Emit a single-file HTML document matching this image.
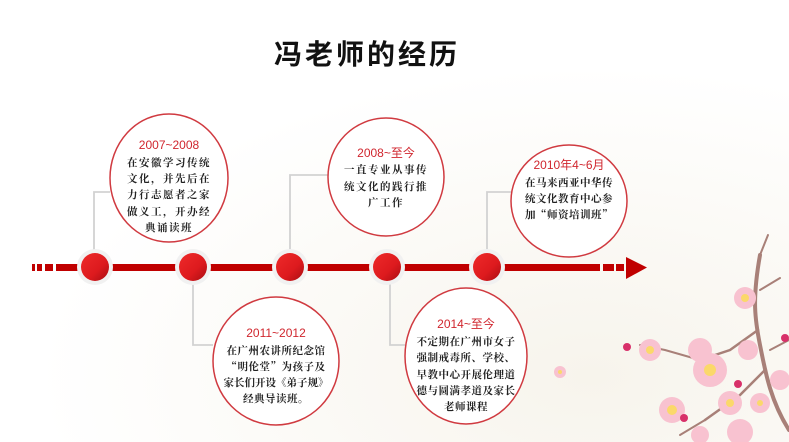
<!DOCTYPE html>
<html><head><meta charset="utf-8"><style>
html,body{margin:0;padding:0;background:#fff;}
svg{display:block;}
.t{font-family:"Liberation Sans","Noto Sans CJK SC",sans-serif;}
.yr{fill:#d0262e;font-size:12px;font-family:"Liberation Sans","Noto Sans CJK SC",sans-serif;}
.bd{fill:#222;font-size:10.5px;font-weight:bold;font-family:"Noto Serif CJK SC","Noto Sans CJK SC",sans-serif;letter-spacing:1.5px;}
.sm{letter-spacing:0.5px;}
</style></head><body>
<svg width="789" height="442" viewBox="0 0 789 442" xmlns="http://www.w3.org/2000/svg">
<defs>
<radialGradient id="bg" cx="0.75" cy="0.85" r="0.7"><stop offset="0" stop-color="#f7f4ec"/><stop offset="1" stop-color="#ffffff"/></radialGradient>
<linearGradient id="nd" x1="0" y1="0" x2="1" y2="1"><stop offset="0" stop-color="#ee2a2a"/><stop offset="0.6" stop-color="#dd1a1e"/><stop offset="1" stop-color="#a80d12"/></linearGradient>
</defs>
<rect width="789" height="442" fill="url(#bg)"/>
<text x="367" y="64" text-anchor="middle" class="t" font-size="28" font-weight="bold" fill="#111" letter-spacing="3">冯老师的经历</text>

<g stroke="#d2d2d2" stroke-width="1.8" fill="none">
<polyline points="94,255 94,192 110,192"/>
<polyline points="290,255 290,175 328,175"/>
<polyline points="487,255 487,192 511,192"/>
<polyline points="193,280 193,345 213,345"/>
<polyline points="390,280 390,345 405,345"/>
</g>

<g fill="#c00000">
<rect x="32" y="264" width="3" height="7"/>
<rect x="37" y="264" width="5" height="7"/>
<rect x="45" y="264" width="8" height="7"/>
<rect x="56" y="264" width="22" height="7"/>
<rect x="78" y="264" width="522" height="7"/>
<rect x="603" y="264" width="11" height="7"/>
<rect x="616" y="264" width="8" height="7"/>
<polygon points="626,257 647,267.5 626,279"/>
</g>
<g>
<circle cx="95" cy="267" r="18" fill="#f1f1f1"/><circle cx="95" cy="267" r="14" fill="url(#nd)"/>
<circle cx="193" cy="267" r="18" fill="#f1f1f1"/><circle cx="193" cy="267" r="14" fill="url(#nd)"/>
<circle cx="290" cy="267" r="18" fill="#f1f1f1"/><circle cx="290" cy="267" r="14" fill="url(#nd)"/>
<circle cx="387" cy="267" r="18" fill="#f1f1f1"/><circle cx="387" cy="267" r="14" fill="url(#nd)"/>
<circle cx="487" cy="267" r="18" fill="#f1f1f1"/><circle cx="487" cy="267" r="14" fill="url(#nd)"/>
</g>

<g fill="#fff" stroke="#d03a40" stroke-width="1.5">
<ellipse cx="169" cy="178" rx="59" ry="64"/>
<ellipse cx="386" cy="177" rx="58" ry="59"/>
<ellipse cx="569" cy="201" rx="58" ry="56"/>
<ellipse cx="276" cy="361" rx="63" ry="64"/>
<ellipse cx="466" cy="356" rx="61" ry="68"/>
</g>

<g text-anchor="middle">
<text x="169" y="149" class="yr">2007~2008</text>
<text x="169" y="166" class="bd">在安徽学习传统</text>
<text x="169" y="182" class="bd">文化，并先后在</text>
<text x="169" y="198" class="bd">力行志愿者之家</text>
<text x="169" y="215" class="bd">做义工，开办经</text>
<text x="169" y="231" class="bd">典诵读班</text>

<text x="386" y="157" class="yr">2008~至今</text>
<text x="386" y="173" class="bd">一直专业从事传</text>
<text x="386" y="190" class="bd">统文化的践行推</text>
<text x="386" y="206" class="bd">广工作</text>

<text x="569" y="169" class="yr">2010年4~6月</text>
<text x="569" y="186" class="bd sm">在马来西亚中华传</text>
<text x="569" y="202" class="bd sm">统文化教育中心参</text>
<text x="569" y="218" class="bd sm">加“师资培训班”</text>

<text x="276" y="337" class="yr">2011~2012</text>
<text x="276" y="354" class="bd sm">在广州农讲所纪念馆</text>
<text x="276" y="370" class="bd sm">“明伦堂”为孩子及</text>
<text x="276" y="386" class="bd" style="letter-spacing:0">家长们开设《弟子规》</text>
<text x="276" y="402" class="bd sm">经典导读班。</text>

<text x="466" y="328" class="yr">2014~至今</text>
<text x="466" y="345" class="bd sm">不定期在广州市女子</text>
<text x="466" y="361" class="bd sm">强制戒毒所、学校、</text>
<text x="466" y="378" class="bd sm">早教中心开展伦理道</text>
<text x="466" y="394" class="bd sm">德与圆满孝道及家长</text>
<text x="466" y="410" class="bd sm">老师课程</text>
</g>

<g stroke="#a88078" fill="none" stroke-linecap="round">
<path d="M789,430 C770,400 765,370 760,345 C755,320 752,300 760,255" stroke-width="4"/>
<path d="M760,255 L768,235" stroke-width="2"/>
<path d="M760,290 L780,278" stroke-width="2"/>
<path d="M758,330 L730,350 L700,360" stroke-width="2.5"/>
<path d="M765,370 L740,395 L705,420" stroke-width="2.5"/>
<path d="M770,350 L789,340" stroke-width="2"/>
<path d="M700,360 L665,350 L640,345" stroke-width="2"/>
<path d="M705,420 L680,435" stroke-width="2"/>
</g>
<g>
<g fill="#f8c2d0"><circle cx="745" cy="298" r="11"/><circle cx="650" cy="350" r="11"/><circle cx="710" cy="370" r="17"/><circle cx="672" cy="410" r="13"/><circle cx="730" cy="403" r="12"/><circle cx="760" cy="403" r="10"/><circle cx="748" cy="350" r="10"/><circle cx="700" cy="350" r="12"/><circle cx="560" cy="372" r="6"/><circle cx="780" cy="380" r="10"/><circle cx="740" cy="432" r="13"/><circle cx="700" cy="435" r="9"/></g>
<g fill="#fbd86a"><circle cx="745" cy="298" r="4"/><circle cx="650" cy="350" r="4"/><circle cx="710" cy="370" r="6"/><circle cx="672" cy="410" r="5"/><circle cx="730" cy="403" r="4"/><circle cx="760" cy="403" r="3"/><circle cx="560" cy="372" r="2"/></g>
<g fill="#d8306a"><circle cx="627" cy="347" r="4"/><circle cx="684" cy="418" r="4"/><circle cx="738" cy="384" r="4"/><circle cx="785" cy="338" r="4"/></g>
</g>
</svg>
</body></html>
